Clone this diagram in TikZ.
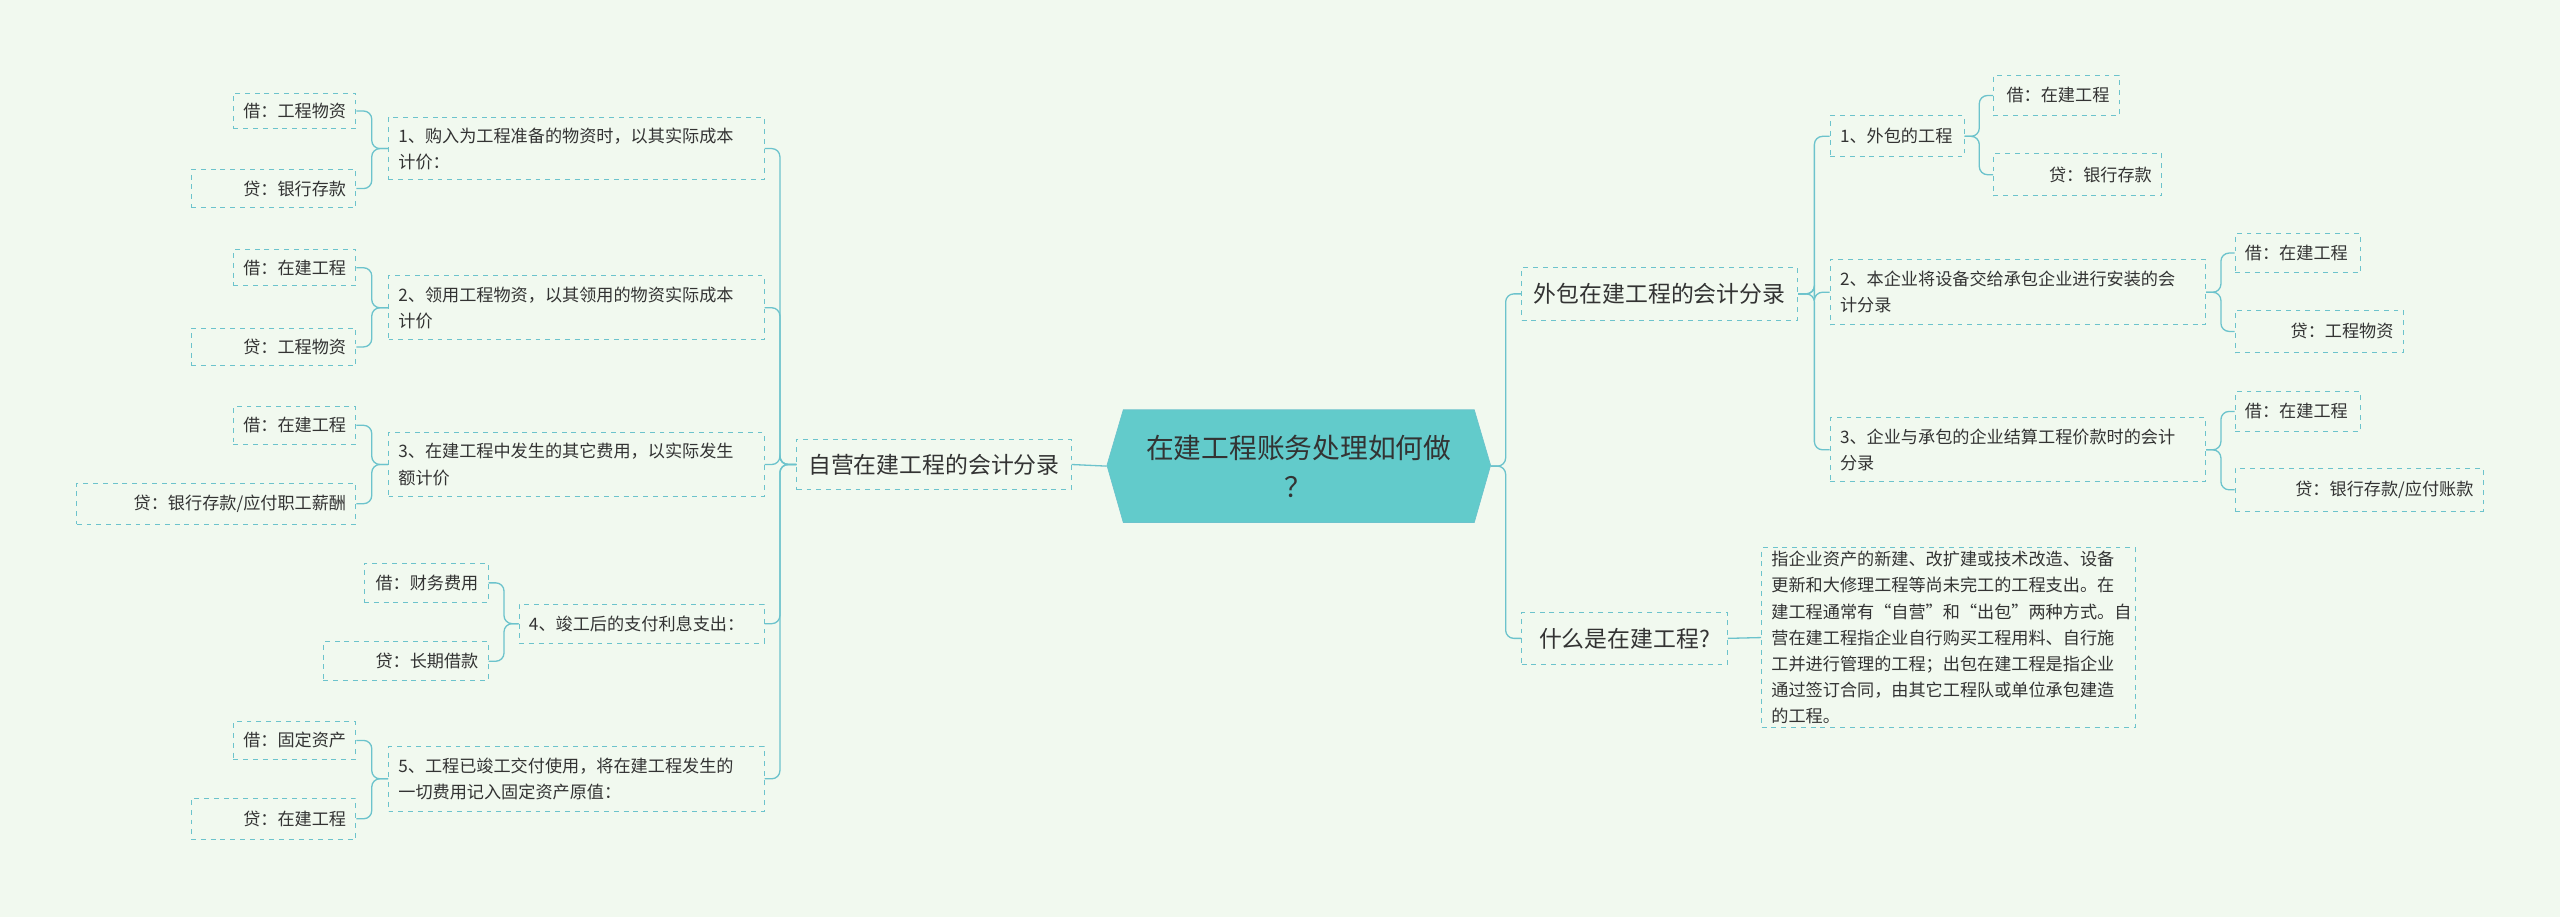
\documentclass[tikz,border=0pt]{standalone}
\usepackage{fontspec}
\setmainfont{Noto Sans CJK SC}
\definecolor{bg}{HTML}{F1F9EF}
\definecolor{ln}{HTML}{6CC3CC}
\definecolor{tx}{HTML}{333333}
\definecolor{cf}{HTML}{62CBCB}
\newcommand\bx[7]{%
\pgfmathsetmacro\tw{#4-#2-12}\pgfmathsetmacro\th{#5-#3}%
\node[box,text width=\tw pt,minimum height=\th pt,align=#6] (#1) at ({(#2+#4)/2},{(#3+#5)/2}) {#7};}
\begin{document}
\begin{tikzpicture}[x=1pt,y=-1pt,
 box/.style={draw=ln,dashed,line width=0.6pt,inner xsep=6pt,inner ysep=2pt,text=tx,font=\fontsize{10.5}{16}\selectfont},
 big/.style={font=\fontsize{14}{18}\selectfont},
 con/.style={draw=ln,line width=0.8pt,rounded corners=5pt}]
\fill[bg] (0,0) rectangle (1568,561.7);
\useasboundingbox (0,0) rectangle (1568,561.7);
% center
\fill[cf,draw=ln] (678,285)--(688,251)--(903,251)--(913,285)--(903,320)--(688,320)--cycle;
\node[minimum width=235pt,minimum height=69pt,inner sep=0pt,align=center,text=tx,font=\fontsize{17}{24}\selectfont] (C) at (795.5,285.5) {在建工程账务处理如何做\\？};
% left
\bx{L}{488}{269}{656}{300}{center}{\fontsize{14}{18}\selectfont 自营在建工程的会计分录}
\bx{a}{238}{72}{468}{110}{left}{1、购入为工程准备的物资时，以其实际成本\\计价：}
\bx{a1}{143}{57}{218}{79}{right}{借：工程物资}
\bx{a2}{117}{104}{218}{127}{right}{贷：银行存款}
\bx{b}{238}{169}{468}{208}{left}{2、领用工程物资，以其领用的物资实际成本\\计价}
\bx{b1}{143}{153}{218}{175}{right}{借：在建工程}
\bx{b2}{117}{201}{218}{224}{right}{贷：工程物资}
\bx{c}{238}{265}{468}{304}{left}{3、在建工程中发生的其它费用，以实际发生\\额计价}
\bx{c1}{143}{249}{218}{272}{right}{借：在建工程}
\bx{c2}{47}{296}{218}{321}{right}{贷：银行存款/应付职工薪酬}
\bx{d}{318}{370}{468}{394}{left}{4、竣工后的支付利息支出：}
\bx{d1}{223}{345}{299}{369}{right}{借：财务费用}
\bx{d2}{198}{393}{299}{417}{right}{贷：长期借款}
\bx{e}{238}{457}{468}{497}{left}{5、工程已竣工交付使用，将在建工程发生的\\一切费用记入固定资产原值：}
\bx{e1}{143}{442}{218}{465}{right}{借：固定资产}
\bx{e2}{117}{489}{218}{514}{right}{贷：在建工程}
\draw[con] (C.west)--(L.east);
\foreach \n in {a,b,c,d,e}{\draw[con] (L.west)--++(-10,0)|-(\n.east);}
\foreach \n in {a,b,c,e}{\foreach \m in {1,2}{\draw[con] (\n.west)--++(-10,0)|-(\n\m.east);}}
\foreach \m in {1,2}{\draw[con] (d.west)--++(-9,0)|-(d\m.east);}
% right
\bx{R}{932}{164}{1101}{196}{center}{\fontsize{14}{18}\selectfont 外包在建工程的会计分录}
\bx{W}{932}{375}{1058}{407}{center}{\fontsize{14}{18}\selectfont 什么是在建工程?}
\bx{f}{1121}{71}{1203}{96}{left}{1、外包的工程}
\bx{f1}{1221}{46}{1298}{71}{right}{借：在建工程}
\bx{f2}{1221}{94}{1324}{120}{right}{贷：银行存款}
\bx{g}{1121}{159}{1351}{199}{left}{2、本企业将设备交给承包企业进行安装的会\\计分录}
\bx{g1}{1369}{143}{1446}{167}{left}{借：在建工程}
\bx{g2}{1369}{190}{1472}{216}{right}{贷：工程物资}
\bx{h}{1121}{256}{1351}{295}{left}{3、企业与承包的企业结算工程价款时的会计\\分录}
\bx{h1}{1369}{240}{1446}{264}{left}{借：在建工程}
\bx{h2}{1369}{287}{1521}{313}{right}{贷：银行存款/应付账款}
\bx{w}{1079}{336}{1308}{445}{left}{指企业资产的新建、改扩建或技术改造、设备\\更新和大修理工程等尚未完工的工程支出。在\\建工程通常有“自营”和“出包”两种方式。自\\营在建工程指企业自行购买工程用料、自行施\\工并进行管理的工程；出包在建工程是指企业\\通过签订合同，由其它工程队或单位承包建造\\的工程。}
\draw[con] (C.east)--++(9,0)|-(R.west);
\draw[con] (C.east)--++(9,0)|-(W.west);
\foreach \n in {f,g,h}{\draw[con] (R.east)--++(10,0)|-(\n.west);}
\foreach \m in {1,2}{\draw[con] (f.east)--++(9,0)|-(f\m.west);
 \draw[con] (g.east)--++(9,0)|-(g\m.west);
 \draw[con] (h.east)--++(9,0)|-(h\m.west);}
\draw[con] (W.east)--(w.west);
\end{tikzpicture}
\end{document}
